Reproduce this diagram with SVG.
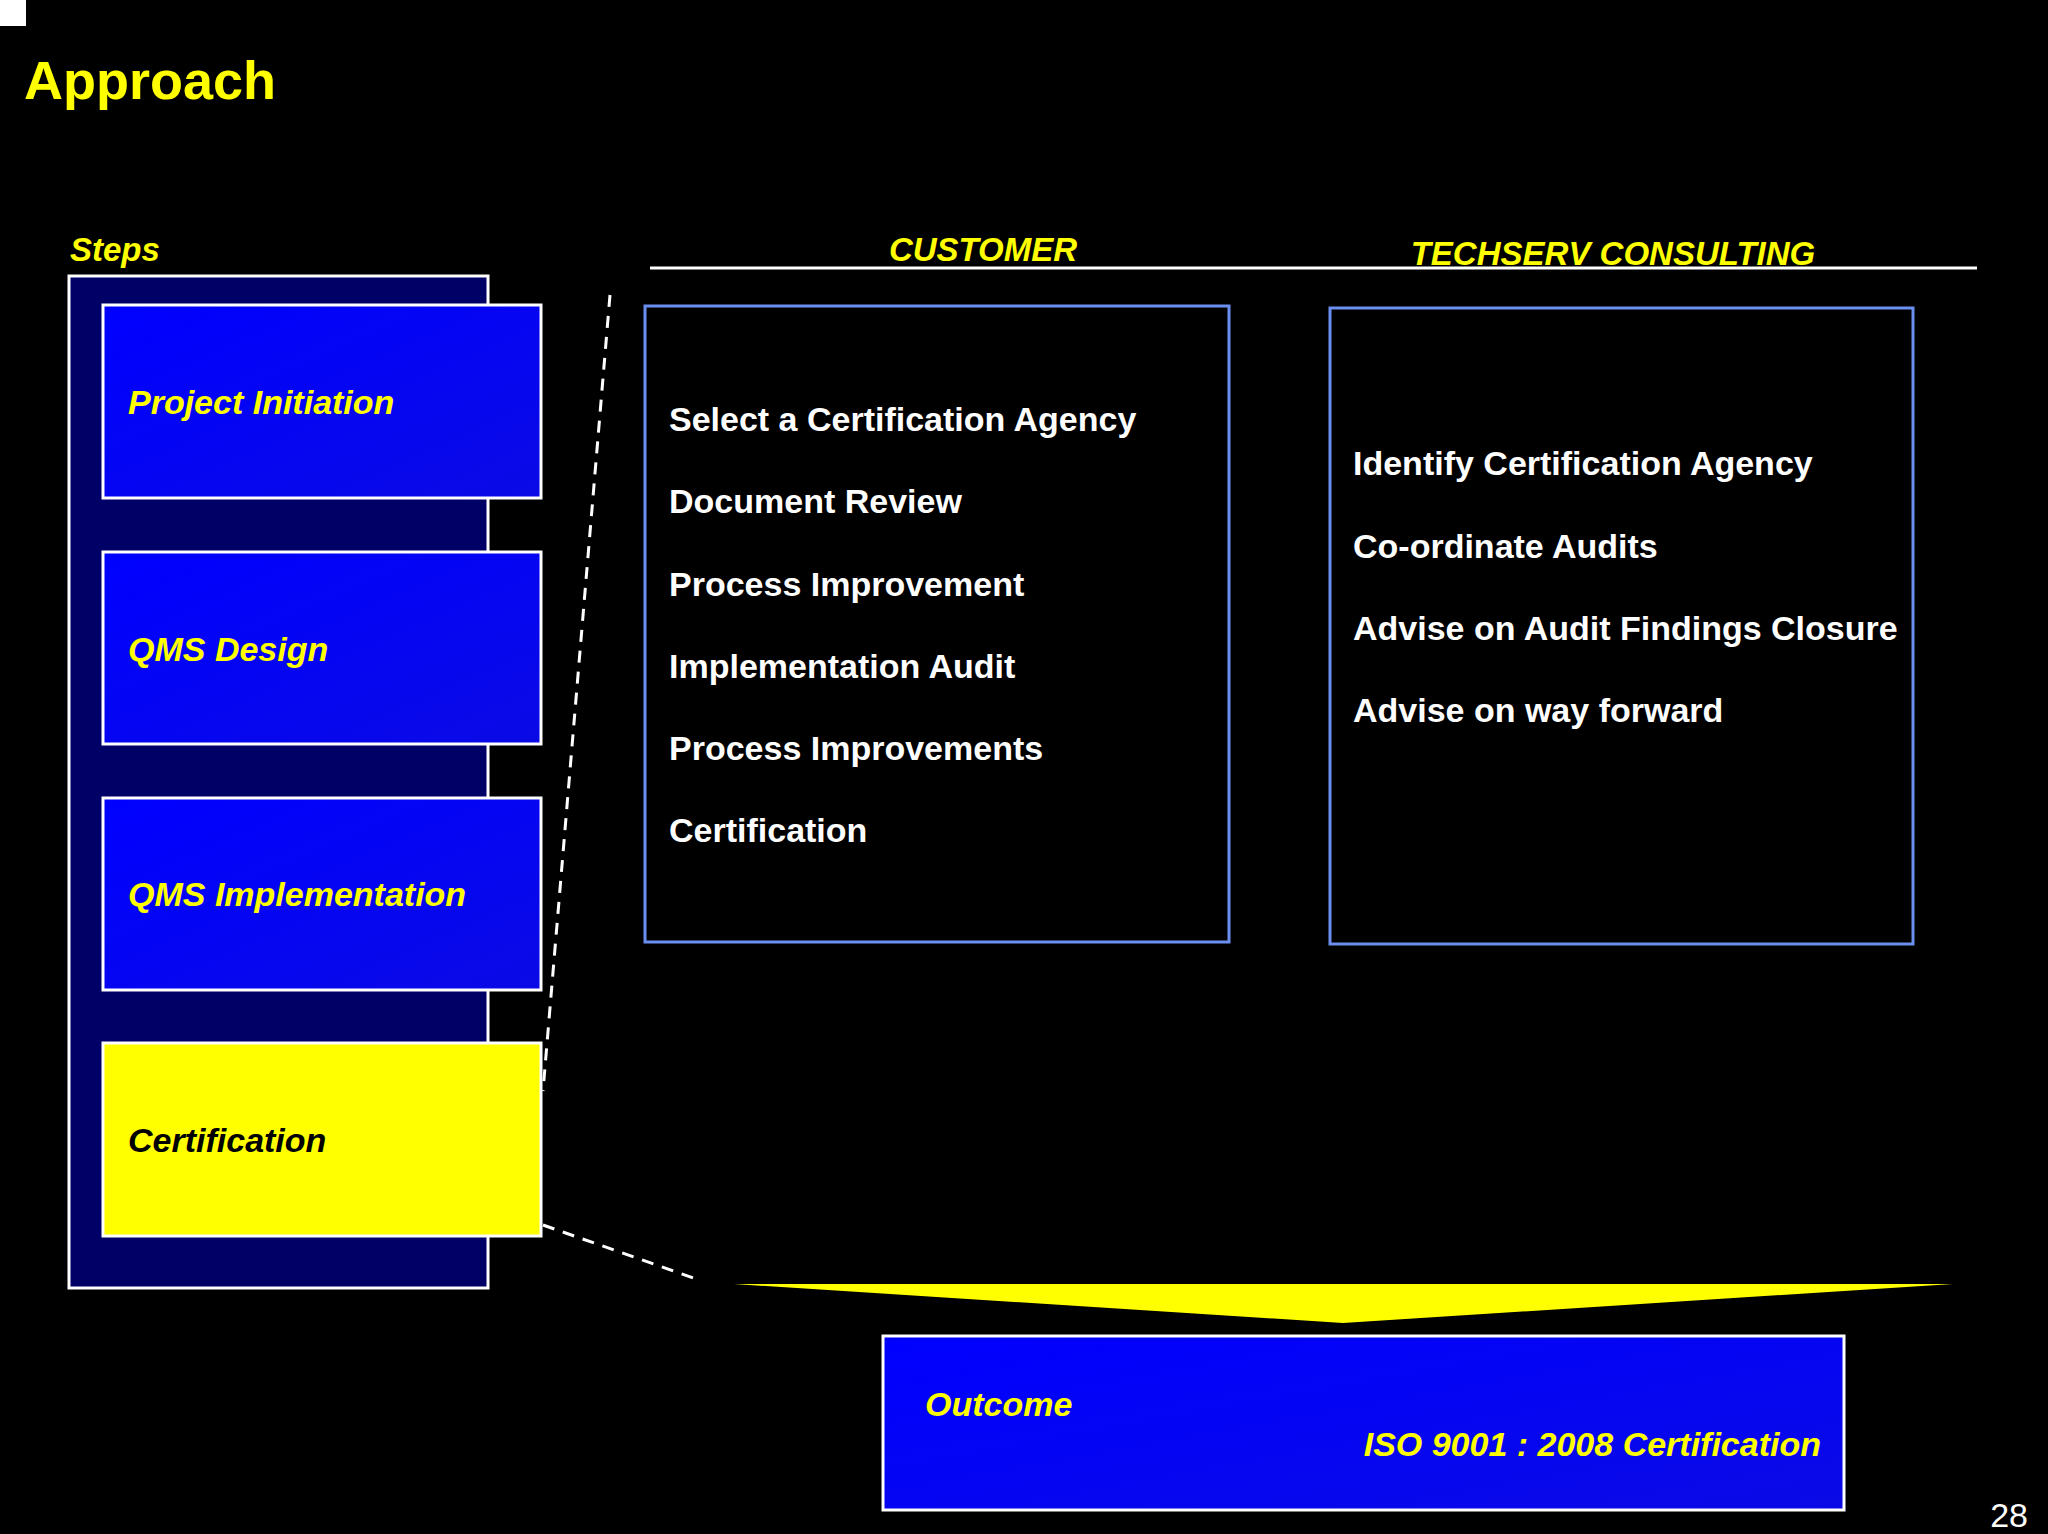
<svg xmlns="http://www.w3.org/2000/svg" width="2048" height="1534" viewBox="0 0 2048 1534">
<defs>
<style>
.t{font-family:"Liberation Sans",Arial,sans-serif;font-weight:bold}
.y{fill:#ffff00;font-style:italic}
.w{fill:#ffffff;font-size:34px}
.step{stroke:#ffffff;stroke-width:3}
.col{fill:none;stroke:#6b8ff0;stroke-width:3}
.dash{stroke:#ffffff;stroke-width:3;stroke-dasharray:12 9;fill:none}
</style>
<linearGradient id="bg" x1="0" y1="0" x2="1" y2="1">
<stop offset="0" stop-color="#0000ff"/><stop offset="1" stop-color="#0a0ae6"/>
</linearGradient>
</defs>
<rect width="2048" height="1534" fill="#000"/>
<rect x="0" y="0" width="26" height="26" fill="#fff"/>
<text class="t" x="24" y="99" font-size="54" fill="#ffff00">Approach</text>
<text class="t y" x="70" y="261" font-size="33">Steps</text>
<rect x="69" y="276" width="419" height="1012" fill="#000066" stroke="#fff" stroke-width="3"/>
<g id="step1"><rect class="step" x="103" y="305" width="438" height="193" fill="url(#bg)"/><text class="t y" x="128" y="414" font-size="34">Project Initiation</text></g>
<g id="step2"><rect class="step" x="103" y="552" width="438" height="192" fill="url(#bg)"/><text class="t y" x="128" y="661" font-size="34">QMS Design</text></g>
<g id="step3"><rect class="step" x="103" y="798" width="438" height="192" fill="url(#bg)"/><text class="t y" x="128" y="906" font-size="34">QMS Implementation</text></g>
<g id="step4"><rect class="step" x="103" y="1043" width="438" height="193" fill="#ffff00"/><text class="t" x="128" y="1152" font-size="34" font-style="italic" fill="#000">Certification</text></g>
<g id="connectors">
<path class="dash" d="M610 295 L543 1091"/>
<path class="dash" d="M543 1225 L699 1280"/>
</g>
<line x1="650" y1="268" x2="1977" y2="268" stroke="#fff" stroke-width="3"/>
<text class="t y" x="983" y="261" font-size="33" text-anchor="middle">CUSTOMER</text>
<text class="t y" x="1613" y="265" font-size="33" text-anchor="middle">TECHSERV CONSULTING</text>
<g id="customer"><rect class="col" x="645" y="306" width="584" height="636"/>
<text class="t w" x="669" y="431">Select a Certification Agency</text>
<text class="t w" x="669" y="513">Document Review</text>
<text class="t w" x="669" y="596">Process Improvement</text>
<text class="t w" x="669" y="678">Implementation Audit</text>
<text class="t w" x="669" y="760">Process Improvements</text>
<text class="t w" x="669" y="842">Certification</text></g>
<g id="techserv"><rect class="col" x="1330" y="308" width="583" height="636"/>
<text class="t w" x="1353" y="475">Identify Certification Agency</text>
<text class="t w" x="1353" y="558">Co-ordinate Audits</text>
<text class="t w" x="1353" y="640">Advise on Audit Findings Closure</text>
<text class="t w" x="1353" y="722">Advise on way forward</text></g>
<polygon points="734,1284 1953,1284 1343,1323" fill="#ffff00"/>
<g id="outcome"><rect class="step" x="883" y="1336" width="961" height="174" fill="url(#bg)"/>
<text class="t y" x="925" y="1416" font-size="34">Outcome</text>
<text class="t y" x="1821" y="1456" font-size="34" text-anchor="end">ISO 9001 : 2008 Certification</text></g>
<text x="2028" y="1527" font-family="Liberation Sans,Arial,sans-serif" font-size="34" fill="#fff" text-anchor="end">28</text>
</svg>
